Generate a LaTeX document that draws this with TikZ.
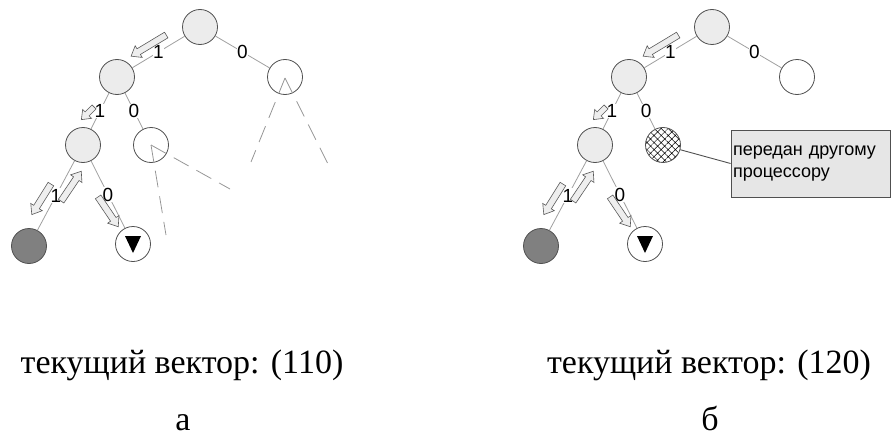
\documentclass[tikz,border=0pt]{standalone}
\usepackage{fontspec}
\setmainfont{Liberation Serif}
\setsansfont{Liberation Sans}
\usetikzlibrary{shapes.arrows,patterns.meta}
\definecolor{NodeLine}{RGB}{80,80,80}
\definecolor{NodeFill}{RGB}{236,236,236}
\definecolor{LeafFill}{RGB}{128,128,128}
\definecolor{EdgeGray}{RGB}{160,160,160}
\definecolor{DashGray}{RGB}{150,150,150}
\definecolor{ArrowLine}{RGB}{90,90,90}
\definecolor{ArrowFill}{RGB}{238,238,238}
\definecolor{NoteFill}{RGB}{230,230,230}

\begin{document}
\begin{tikzpicture}[
  x=1pt, y=-1pt,
  vertex/.style={circle, draw=NodeLine, line width=0.8pt, minimum size=35pt, inner sep=0pt},
  visited/.style={vertex, fill=NodeFill},
  freenode/.style={vertex, fill=white},
  found/.style={vertex, fill=LeafFill},
  sent/.style={vertex, pattern={Hatch[distance=5pt, angle=45, line width=0.5pt]}, pattern color=black},
  edge/.style={draw=EdgeGray, line width=0.8pt},
  subtree/.style={draw=DashGray, line width=0.8pt, dash pattern=on 17pt off 9pt},
  bit/.style={fill=white, inner sep=0.5pt, font=\sffamily\fontsize{19}{19}\selectfont},
  move/.style={single arrow, draw=ArrowLine, fill=ArrowFill, line width=0.6pt, inner sep=3pt,
    single arrow head extend=3.5pt, single arrow tip angle=75, minimum height=36pt},
  note/.style={draw=NodeLine, fill=NoteFill, line width=0.8pt, text width=155pt, inner xsep=2pt,
    inner ysep=0pt, minimum height=67pt, align=left, font=\sffamily\fontsize{18}{22}\selectfont},
  caption/.style={anchor=base, inner sep=0pt, font=\fontsize{34}{34}\selectfont}
]
\useasboundingbox (0,0) rectangle (891,436);

% --- (a) ---
\node[visited] (a-root) at (200,27) {};
\node[visited] (a-l1) at (117,77) {};
\node[freenode] (a-r1) at (285,77) {};
\node[visited] (a-ll) at (83,145) {};
\node[freenode] (a-lr) at (151,145) {};
\node[found] (a-lll) at (29,246) {};
\node[freenode] (a-llr) at (133,244) {};
\fill (a-llr.center) ++(-8,-8) -- ++(16,0) -- ++(-8,17) -- cycle;

\draw[edge] (a-root) -- node[bit] {1} (a-l1);
\draw[edge] (a-root) -- node[bit] {0} (a-r1);
\draw[edge] (a-l1) -- node[bit] {1} (a-ll);
\draw[edge] (a-l1) -- node[bit] {0} (a-lr);
\draw[edge] (a-ll) -- node[bit] {1} (a-lll);
\draw[edge] (a-ll) -- node[bit] {0} (a-llr);

% unexplored subtrees
\coordinate (a-r1-top) at (285,78);
\coordinate (a-r1-bl) at (251,162);
\coordinate (a-r1-br) at (330,168);
\coordinate (a-lr-top) at (151,145);
\coordinate (a-lr-bl) at (166,235);
\coordinate (a-lr-br) at (230,189);
\draw[subtree] (a-r1-top) -- (a-r1-bl);
\draw[subtree] (a-r1-top) -- (a-r1-br);
\draw[subtree] (a-lr-top) -- (a-lr-bl);
\draw[subtree] (a-lr-top) -- (a-lr-br);

% search steps
\node[move, rotate=211, minimum height=41pt] (a-go1) at (150.5,44.5) {};
\node[move, rotate=225, minimum height=18pt, inner sep=2.5pt, single arrow head extend=3.5pt] (a-go2) at (89,112) {};
\node[move, rotate=238] (a-go3) at (42.5,197.5) {};
\node[move, rotate=56] (a-back) at (70,188) {};
\node[move, rotate=304] (a-go4) at (107,210) {};

\node[caption] (a-vec) at (182,373) {текущий вектор: (110)};
\node[caption] (a-tag) at (183,430) {а};

% --- (b) ---
\node[visited] (b-root) at (712,27) {};
\node[visited] (b-l1) at (629,77) {};
\node[freenode] (b-r1) at (797,77) {};
\node[visited] (b-ll) at (595,145) {};
\node[sent] (b-lr) at (663,145) {};
\node[found] (b-lll) at (541,246) {};
\node[freenode] (b-llr) at (645,244) {};
\fill (b-llr.center) ++(-8,-8) -- ++(16,0) -- ++(-8,17) -- cycle;

\draw[edge] (b-root) -- node[bit] {1} (b-l1);
\draw[edge] (b-root) -- node[bit] {0} (b-r1);
\draw[edge] (b-l1) -- node[bit] {1} (b-ll);
\draw[edge] (b-l1) -- node[bit] {0} (b-lr);
\draw[edge] (b-ll) -- node[bit] {1} (b-lll);
\draw[edge] (b-ll) -- node[bit] {0} (b-llr);

\node[move, rotate=211, minimum height=41pt] (b-go1) at (662.5,44.5) {};
\node[move, rotate=225, minimum height=18pt, inner sep=2.5pt, single arrow head extend=3.5pt] (b-go2) at (601,112) {};
\node[move, rotate=238] (b-go3) at (554.5,197.5) {};
\node[move, rotate=56] (b-back) at (582,188) {};
\node[move, rotate=304] (b-go4) at (619,210) {};

\node[note] (b-note) at (810.5,163.5) {передан другому\\процессору};
\draw[NodeLine, line width=0.9pt] (b-lr) -- (b-note.west);

\node[caption] (b-vec) at (709,373) {текущий вектор: (120)};
\node[caption] (b-tag) at (710,430) {б};
\end{tikzpicture}
\end{document}
